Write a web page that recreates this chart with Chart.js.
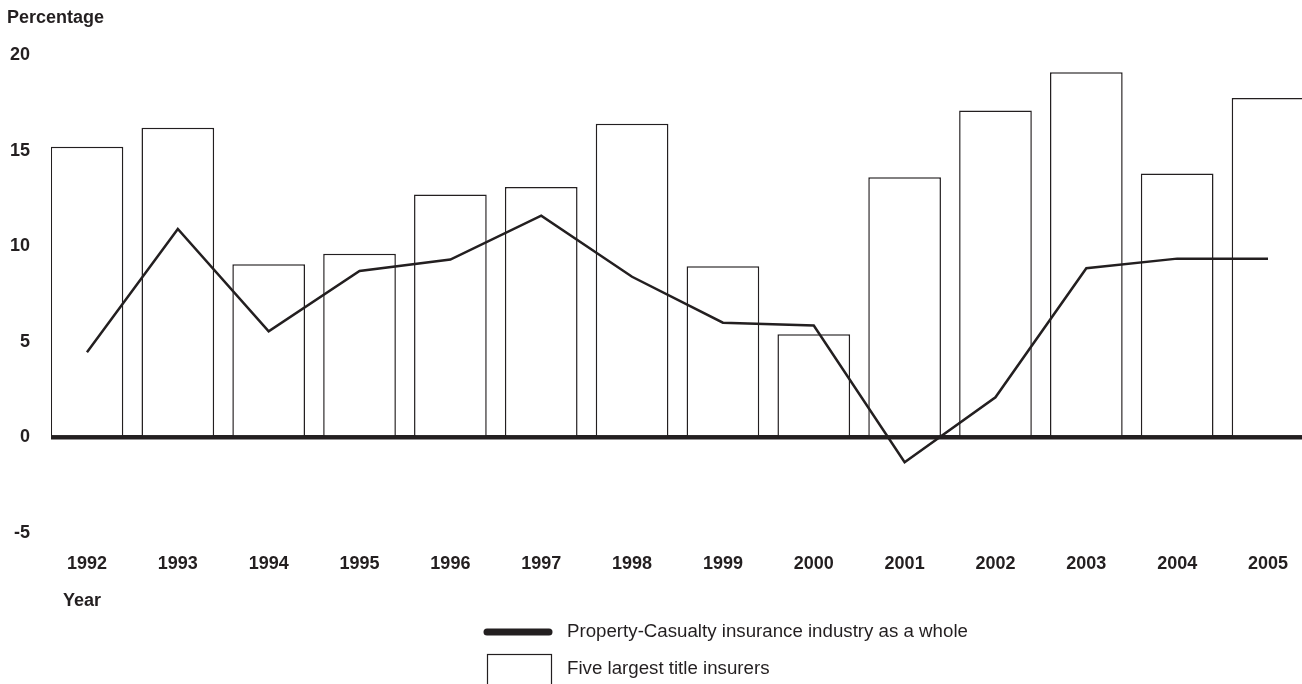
<!DOCTYPE html>
<html>
<head>
<meta charset="utf-8">
<script src="https://cdn.jsdelivr.net/npm/chart.js@4/dist/chart.umd.min.js"></script>
<style>
  html, body { margin: 0; padding: 0; background: #fff; }
  #wrap { position: relative; width: 1302px; height: 684px; }
</style>
</head>
<body>
<div id="wrap"><canvas id="chart" width="1302" height="684"></canvas></div>
<script>
const years = [1992, 1993, 1994, 1995, 1996, 1997, 1998, 1999, 2000, 2001, 2002, 2003, 2004, 2005];
const titleInsurers = [15.2, 16.2, 9.05, 9.6, 12.7, 13.1, 16.4, 8.95, 5.4, 13.6, 17.1, 19.1, 13.8, 17.75];
const propertyCasualty = [4.45, 10.9, 5.55, 8.7, 9.3, 11.6, 8.4, 6.0, 5.85, -1.3, 2.1, 8.85, 9.35, 9.35];
const yTicks = [-5, 0, 5, 10, 15, 20];

const ink = "#231f20";
const font = "'Liberation Sans', Arial, Helvetica, sans-serif";

// title, axis caption and the legend drawn by hand
const extras = {
  id: "extras",
  afterDraw(chart) {
    const c = chart.ctx;
    c.save();
    c.fillStyle = ink;
    c.textBaseline = "middle";
    c.font = "bold 18px " + font;
    c.fillText("Percentage", 7, 18);
    c.fillText("Year", 63, 601);

    const ds = chart.data.datasets;
    c.strokeStyle = ink;
    c.lineCap = "round";
    c.lineWidth = 7;
    c.beginPath();
    c.moveTo(487, 632);
    c.lineTo(549, 632);
    c.stroke();

    c.lineCap = "butt";
    c.lineWidth = 1.2;
    c.strokeRect(487.5, 654.5, 64, 40);

    c.font = "18.7px " + font;
    c.fillText(ds[0].label, 567, 632);
    c.fillText(ds[1].label, 567, 669);
    c.restore();
  },
};

new Chart(document.getElementById("chart"), {
  data: {
    datasets: [
      {
        type: "line",
        label: "Property-Casualty insurance industry as a whole",
        data: years.map((y, i) => ({ x: y, y: propertyCasualty[i] })),
        borderColor: ink,
        borderWidth: 2.5,
        tension: 0,
        pointRadius: 0,
      },
      {
        type: "bar",
        label: "Five largest title insurers",
        data: years.map((y, i) => ({ x: y, y: titleInsurers[i] })),
        backgroundColor: "#ffffff",
        borderColor: ink,
        borderWidth: 1.5,
        barPercentage: 0.8,
        categoryPercentage: 1,
      },
    ],
  },
  options: {
    responsive: false,
    animation: false,
    layout: { padding: { top: 55, left: 0, right: 0, bottom: 0 } },
    plugins: {
      legend: { display: false },
      tooltip: { enabled: false },
    },
    scales: {
      x: {
        type: "linear",
        offset: false,
        min: 1992 - 0.396,
        max: 2005 + 0.374,
        afterBuildTicks: (s) => { s.ticks = years.map((v) => ({ value: v })); },
        afterFit: (s) => {
          s.height = 151;
          s.paddingLeft = 0;
          s.paddingRight = 0;
        },
        grid: { display: false, drawTicks: false, offset: false },
        border: { display: false },
        ticks: {
          padding: 20,
          color: ink,
          font: { family: font, size: 18, weight: "bold" },
          callback: (v) => String(v),
        },
      },
      y: {
        min: -5,
        max: 20,
        afterBuildTicks: (s) => { s.ticks = yTicks.map((v) => ({ value: v })); },
        afterFit: (s) => { s.width = 51; },
        border: { display: false },
        grid: {
          drawTicks: false,
          color: (ctx) => (ctx.tick && ctx.tick.value === 0 ? ink : "rgba(0,0,0,0)"),
          lineWidth: (ctx) => (ctx.tick && ctx.tick.value === 0 ? 4.5 : 0),
        },
        ticks: {
          padding: 21,
          color: ink,
          font: { family: font, size: 18, weight: "bold" },
        },
      },
    },
  },
  plugins: [extras],
});
</script>
</body>
</html>
